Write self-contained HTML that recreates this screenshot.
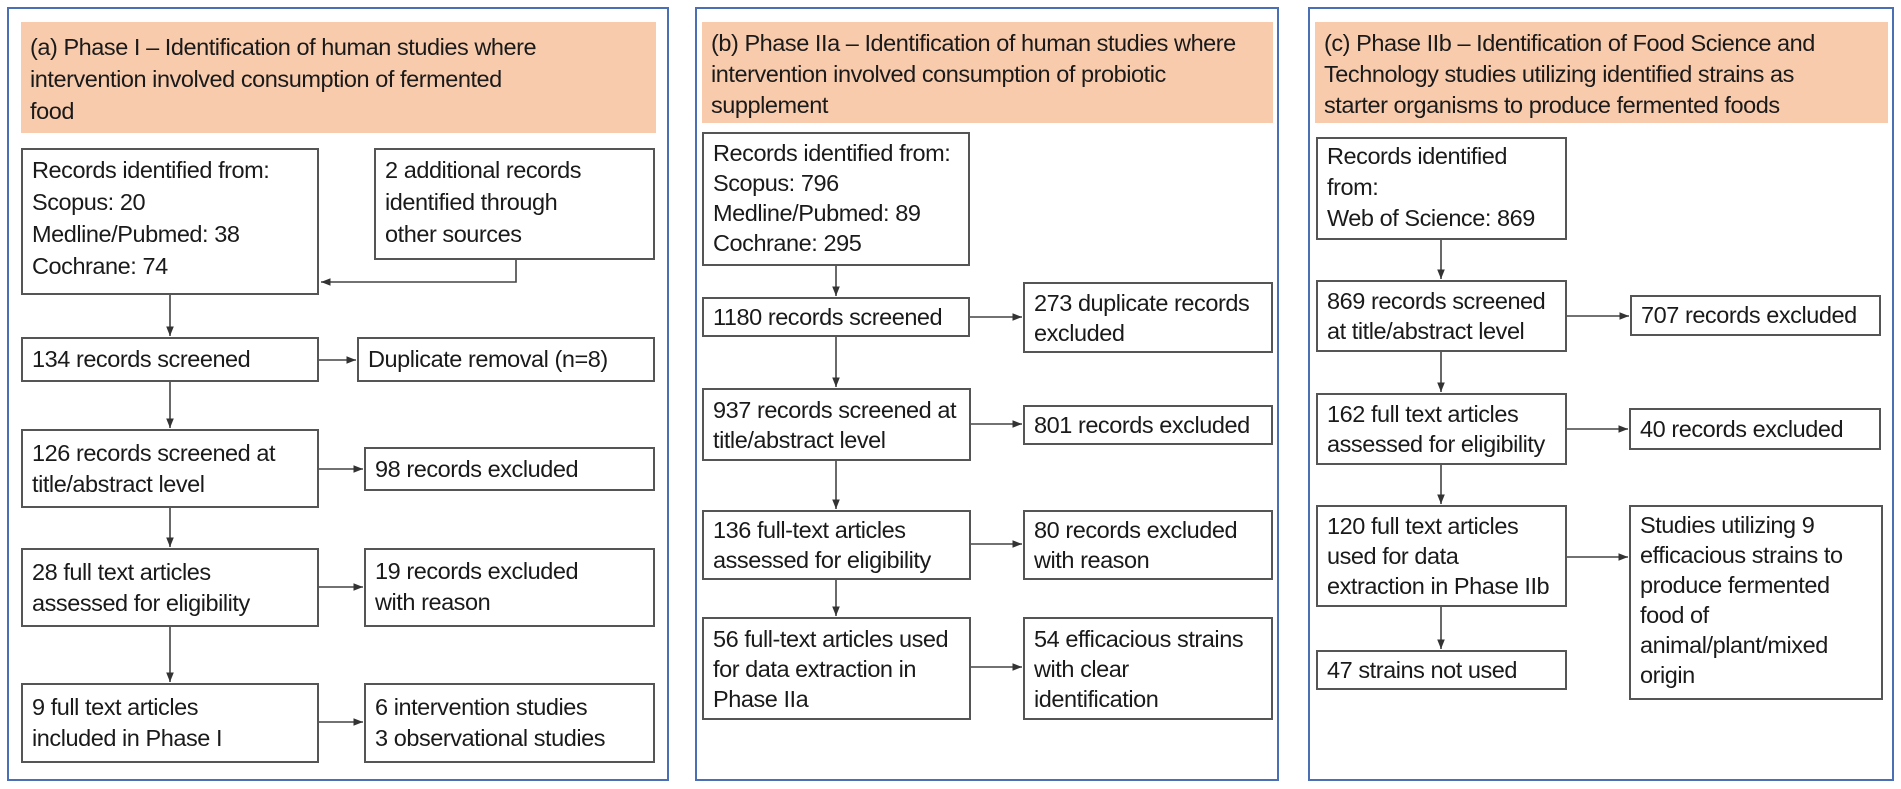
<!DOCTYPE html>
<html><head><meta charset="utf-8">
<style>
html,body{margin:0;padding:0;background:#fff;}
body{width:1901px;height:789px;position:relative;overflow:hidden;font-family:"Liberation Sans",Arial,sans-serif;color:#1a1a1a;}
.panel{position:absolute;border:2px solid #4a6fb5;box-sizing:border-box;}
.hdr{position:absolute;background:#f8cbad;box-sizing:border-box;padding:6px 0 0 9px;font-size:23.5px;letter-spacing:-0.45px;line-height:31px;white-space:nowrap;}
.box{position:absolute;border:2px solid #555;box-sizing:border-box;background:#fff;font-size:23.5px;letter-spacing:-0.45px;line-height:31px;white-space:nowrap;padding:0 0 0 9px;display:flex;align-items:center;}
.top{align-items:flex-start;padding-top:4px;}
svg{position:absolute;left:0;top:0;}
</style></head><body>
<div class="panel" style="left:7px;top:7px;width:662px;height:774px;"></div>
<div class="panel" style="left:695px;top:7px;width:584px;height:774px;"></div>
<div class="panel" style="left:1308px;top:7px;width:586px;height:774px;"></div>

<div class="hdr" style="left:21px;top:22px;width:635px;height:111px;padding-top:9px;line-height:32px;">(a) Phase I – Identification of human studies where<br>intervention involved consumption of fermented<br>food</div>
<div class="hdr" style="left:702px;top:22px;width:571px;height:101px;">(b) Phase IIa – Identification of human studies where<br>intervention involved consumption of probiotic<br>supplement</div>
<div class="hdr" style="left:1315px;top:22px;width:573px;height:101px;">(c) Phase IIb – Identification of Food Science and<br>Technology studies utilizing identified strains as<br>starter organisms to produce fermented foods</div>

<!-- Panel A -->
<div class="box top" style="left:21px;top:148px;width:298px;height:147px;line-height:32px;">Records identified from:<br>Scopus: 20<br>Medline/Pubmed: 38<br>Cochrane: 74</div>
<div class="box top" style="left:374px;top:148px;width:281px;height:112px;line-height:32px;">2 additional records<br>identified through<br>other sources</div>
<div class="box" style="left:21px;top:337px;width:298px;height:45px;">134 records screened</div>
<div class="box" style="left:357px;top:337px;width:298px;height:45px;">Duplicate removal (n=8)</div>
<div class="box" style="left:21px;top:429px;width:298px;height:79px;">126 records screened at<br>title/abstract level</div>
<div class="box" style="left:364px;top:447px;width:291px;height:44px;">98 records excluded</div>
<div class="box" style="left:21px;top:548px;width:298px;height:79px;">28 full text articles<br>assessed for eligibility</div>
<div class="box top" style="left:364px;top:548px;width:291px;height:79px;padding-top:6px;">19 records excluded<br>with reason</div>
<div class="box" style="left:21px;top:683px;width:298px;height:80px;">9 full text articles<br>included in Phase I</div>
<div class="box" style="left:364px;top:683px;width:291px;height:80px;">6 intervention studies<br>3 observational studies</div>

<!-- Panel B -->
<div class="box top" style="left:702px;top:132px;width:268px;height:134px;line-height:30px;">Records identified from:<br>Scopus: 796<br>Medline/Pubmed: 89<br>Cochrane: 295</div>
<div class="box" style="left:702px;top:297px;width:268px;height:40px;">1180 records screened</div>
<div class="box" style="left:1023px;top:282px;width:250px;height:71px;line-height:30px;">273 duplicate records<br>excluded</div>
<div class="box" style="left:702px;top:388px;width:269px;height:73px;line-height:30px;">937 records screened at<br>title/abstract level</div>
<div class="box" style="left:1023px;top:405px;width:250px;height:40px;">801 records excluded</div>
<div class="box" style="left:702px;top:510px;width:269px;height:70px;line-height:30px;">136 full-text articles<br>assessed for eligibility</div>
<div class="box" style="left:1023px;top:510px;width:250px;height:70px;line-height:30px;">80 records excluded<br>with reason</div>
<div class="box" style="left:702px;top:617px;width:269px;height:103px;line-height:30px;">56 full-text articles used<br>for data extraction in<br>Phase IIa</div>
<div class="box" style="left:1023px;top:617px;width:250px;height:103px;line-height:30px;">54 efficacious strains<br>with clear<br>identification</div>

<!-- Panel C -->
<div class="box top" style="left:1316px;top:137px;width:251px;height:103px;line-height:31px;padding-top:2px;">Records identified<br>from:<br>Web of Science: 869</div>
<div class="box" style="left:1316px;top:280px;width:251px;height:72px;line-height:30px;">869 records screened<br>at title/abstract level</div>
<div class="box" style="left:1630px;top:295px;width:251px;height:41px;">707 records excluded</div>
<div class="box" style="left:1316px;top:393px;width:251px;height:72px;line-height:30px;">162 full text articles<br>assessed for eligibility</div>
<div class="box" style="left:1629px;top:408px;width:252px;height:42px;">40 records excluded</div>
<div class="box" style="left:1316px;top:505px;width:251px;height:102px;line-height:30px;">120 full text articles<br>used for data<br>extraction in Phase IIb</div>
<div class="box top" style="left:1629px;top:505px;width:254px;height:195px;line-height:30px;padding-top:3px;">Studies utilizing 9<br>efficacious strains to<br>produce fermented<br>food of<br>animal/plant/mixed<br>origin</div>
<div class="box" style="left:1316px;top:650px;width:251px;height:40px;">47 strains not used</div>

<svg width="1901" height="789">
<defs><marker id="ah" viewBox="0 0 10 10" refX="10" refY="5" markerWidth="6" markerHeight="6" orient="auto"><path d="M0,1 L10,5 L0,9 z" fill="#333"/></marker></defs>
<g stroke="#444" stroke-width="1.6" fill="none" marker-end="url(#ah)">
<path d="M516,260 V282 H321"/>
<path d="M170,295 V336"/>
<path d="M319,360 H356"/>
<path d="M170,382 V428"/>
<path d="M319,469 H363"/>
<path d="M170,508 V547"/>
<path d="M319,587 H363"/>
<path d="M170,627 V682"/>
<path d="M319,722 H363"/>
<path d="M836,266 V296"/>
<path d="M970,317 H1022"/>
<path d="M836,337 V387"/>
<path d="M971,424 H1022"/>
<path d="M836,461 V509"/>
<path d="M971,544 H1022"/>
<path d="M836,580 V616"/>
<path d="M971,667 H1022"/>
<path d="M1441,240 V279"/>
<path d="M1567,316 H1629"/>
<path d="M1441,352 V392"/>
<path d="M1567,429 H1628"/>
<path d="M1441,465 V504"/>
<path d="M1567,557 H1628"/>
<path d="M1441,607 V649"/>
</g>
</svg>
</body></html>
